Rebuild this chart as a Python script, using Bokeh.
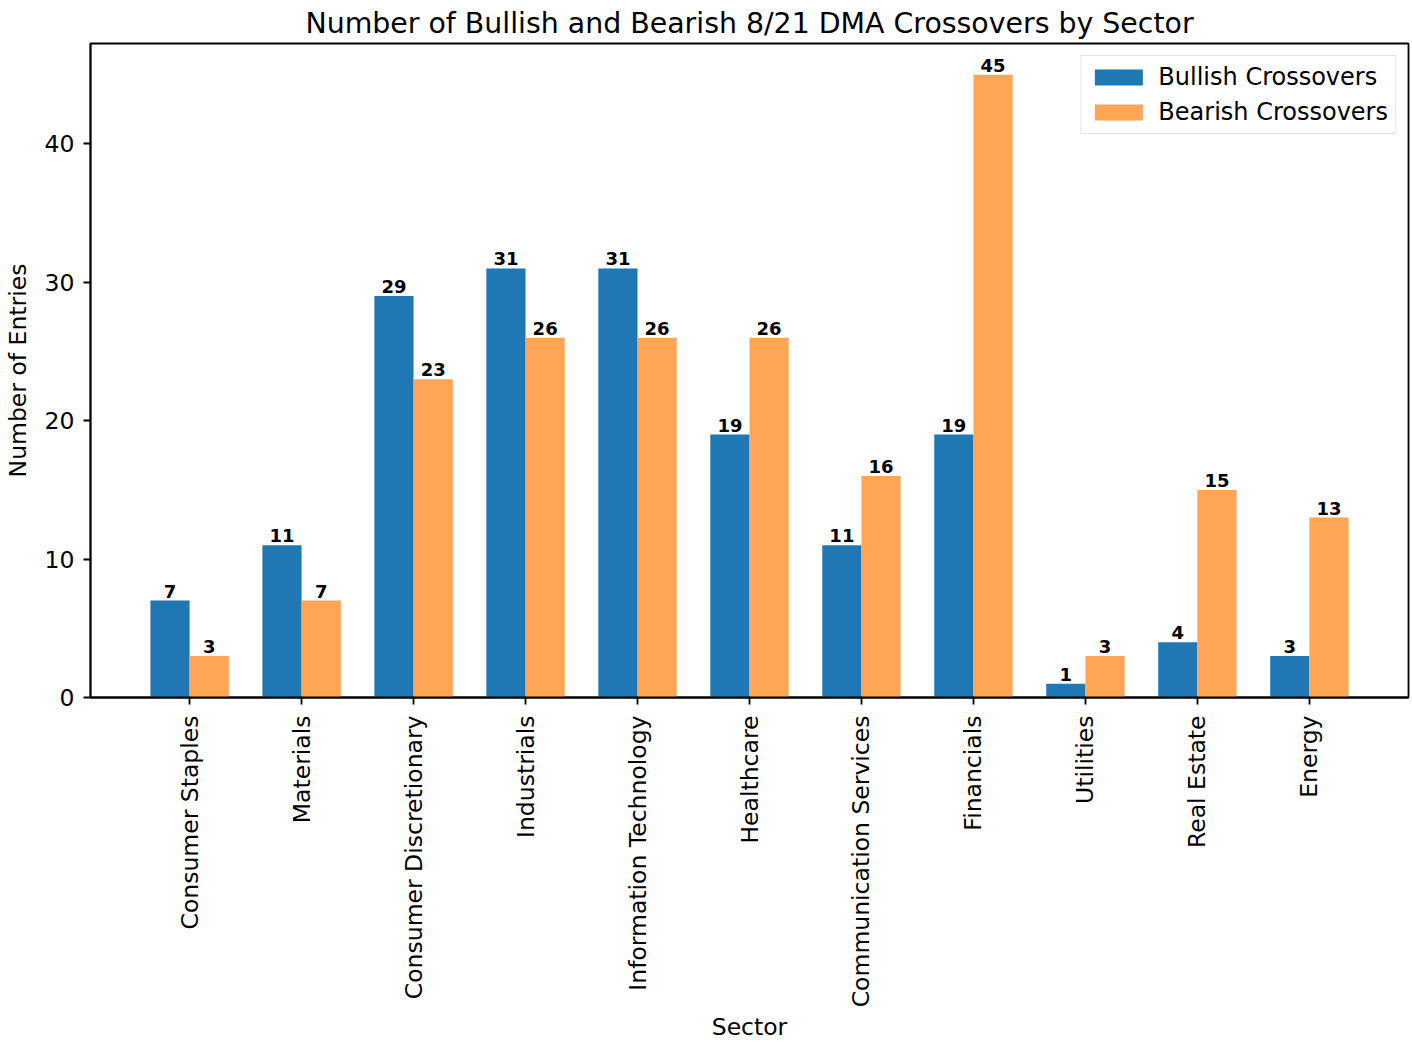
import math
from bokeh.plotting import figure
from bokeh.models import Range1d, FixedTicker, Legend, LegendItem, ColumnDataSource
from bokeh.core.properties import value
from bokeh.embed import file_html
from bokeh.resources import INLINE

sectors = ['Consumer Staples', 'Materials', 'Consumer Discretionary', 'Industrials',
           'Information Technology', 'Healthcare', 'Communication Services', 'Financials',
           'Utilities', 'Real Estate', 'Energy']
bullish = [7, 11, 29, 31, 31, 19, 11, 19, 1, 4, 3]
bearish = [3, 7, 23, 26, 26, 26, 16, 45, 3, 15, 13]

width = 0.35
pos = list(range(len(sectors)))

src_bull = ColumnDataSource(dict(x=[i - width / 2 for i in pos], top=bullish,
                                 label=[str(v) for v in bullish]))
src_bear = ColumnDataSource(dict(x=[i + width / 2 for i in pos], top=bearish,
                                 label=[str(v) for v in bearish]))

font = "DejaVu Sans"

p = figure(width=1410, height=1044, output_backend="svg", toolbar_location=None,
           title="Number of Bullish and Bearish 8/21 DMA Crossovers by Sector",
           x_range=Range1d(-0.885, 10.885), y_range=Range1d(0, 47.25),
           min_border_left=90, min_border_right=2, min_border_top=43, min_border_bottom=347)

p.title.align = "center"
p.title.text_font = font
p.title.text_font_size = "28.4px"
p.title.text_font_style = "normal"
p.title.text_color = "black"
p.title.offset = 0
p.title.standoff = 8

r1 = p.vbar(x='x', top='top', width=width, source=src_bull, fill_color="#1f77b4", line_color=None)
r2 = p.vbar(x='x', top='top', width=width, source=src_bear, fill_color="#ffa556", line_color=None)

for src in (src_bull, src_bear):
    p.text(x='x', y='top', text='label', source=src, text_align="center", text_baseline="bottom",
           y_offset=-3, text_font=value(font), text_font_size="18px", text_font_style="bold",
           text_color="black")

p.xgrid.visible = False
p.ygrid.visible = False
p.outline_line_color = "black"
p.outline_line_width = 1.8

p.xaxis.ticker = FixedTicker(ticks=pos)
p.xaxis.major_label_overrides = {i: s for i, s in enumerate(sectors)}
p.xaxis.major_label_orientation = math.pi / 2
p.yaxis.ticker = FixedTicker(ticks=[0, 10, 20, 30, 40])

for ax in (p.xaxis[0], p.yaxis[0]):
    ax.major_tick_in = 0
    ax.major_tick_out = 7
    ax.minor_tick_in = 0
    ax.minor_tick_out = 0
    ax.axis_line_width = 1.8
    ax.major_tick_line_width = 1.8
    ax.major_label_text_font = font
    ax.major_label_text_font_size = "23.5px"
    ax.major_label_text_color = "black"
    ax.axis_label_text_font = font
    ax.axis_label_text_font_size = "23.5px"
    ax.axis_label_text_font_style = "normal"
    ax.axis_label_text_color = "black"

p.xaxis.major_label_standoff = 11
p.yaxis.major_label_standoff = 9
p.xaxis.axis_label = "Sector"
p.yaxis.axis_label = "Number of Entries"
p.xaxis.axis_label_standoff = 3
p.yaxis.axis_label_standoff = 10

legend = Legend(items=[LegendItem(label="Bullish Crossovers", renderers=[r1]),
                       LegendItem(label="Bearish Crossovers", renderers=[r2])],
                location="top_right", margin=12, padding=7, spacing=7,
                glyph_width=60, glyph_height=20, label_text_font=font,
                label_text_font_size="24px", label_text_color="black",
                border_line_color="#cccccc", border_line_width=1.5, label_standoff=10)
p.add_layout(legend)

open("out.html", "w").write(file_html(p, INLINE))
